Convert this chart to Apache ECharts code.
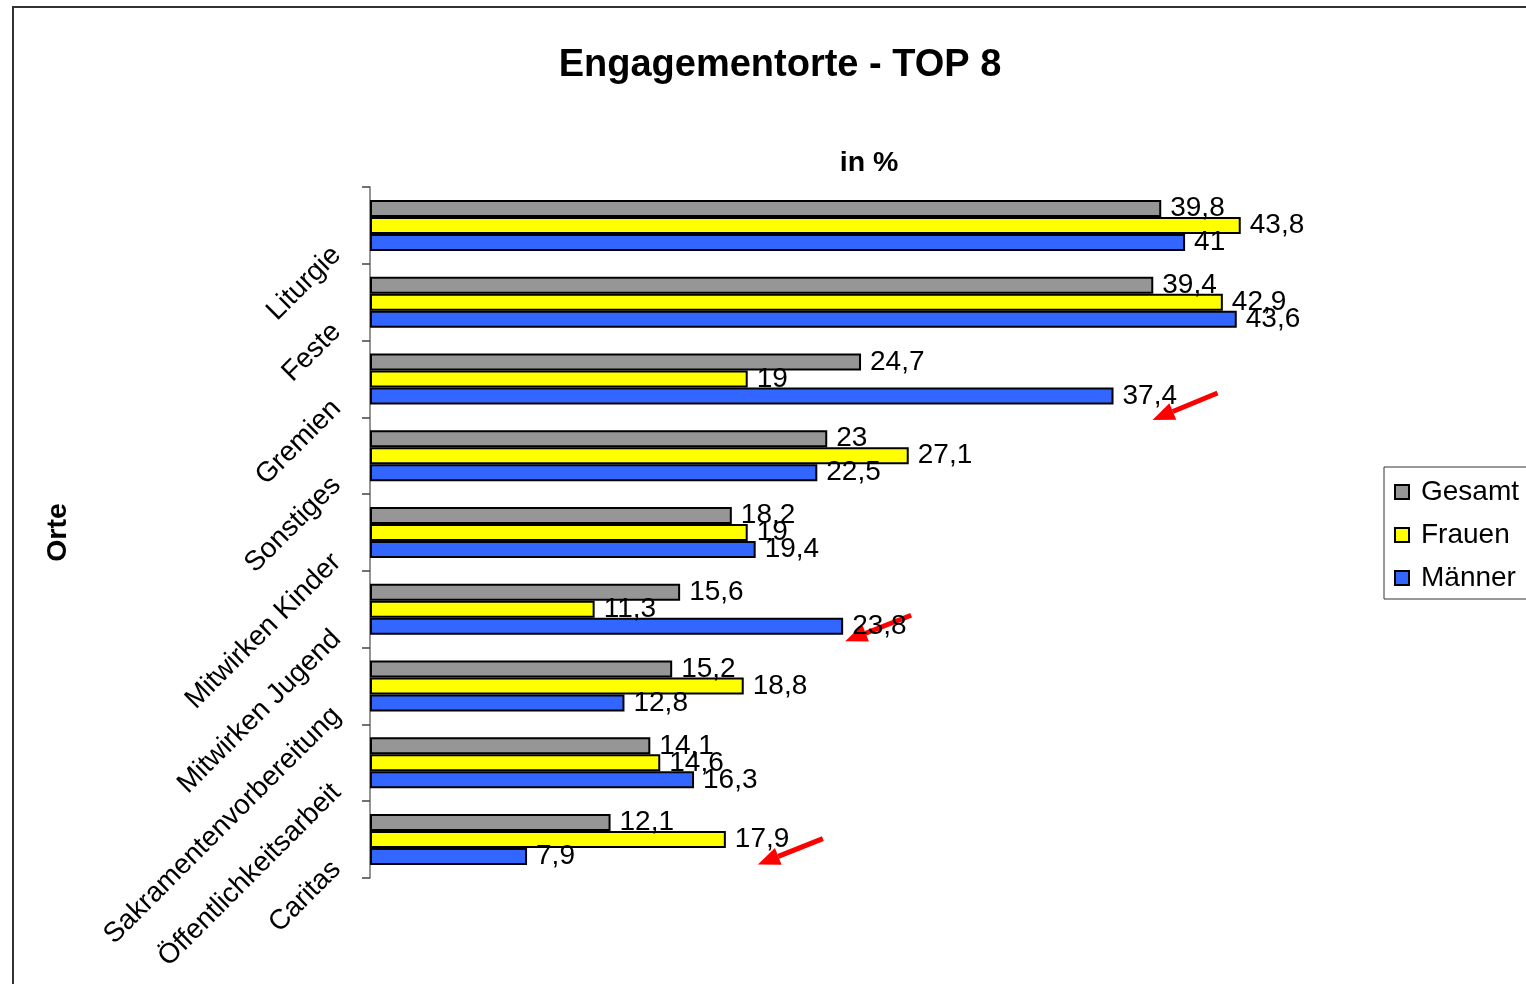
<!DOCTYPE html>
<html>
<head>
<meta charset="utf-8">
<script src="https://cdn.jsdelivr.net/npm/echarts@6/dist/echarts.min.js"></script>
<style>
html, body { margin: 0; padding: 0; background: #fff; }
#chart { width: 1526px; height: 984px; }
</style>
</head>
<body>
<div id="chart"></div>
<script>
const categories = ['Liturgie', 'Feste', 'Gremien', 'Sonstiges', 'Mitwirken Kinder', 'Mitwirken Jugend', 'Sakramentenvorbereitung', 'Öffentlichkeitsarbeit', 'Caritas']
const gesamt = [39.8, 39.4, 24.7, 23, 18.2, 15.6, 15.2, 14.1, 12.1]
const frauen = [43.8, 42.9, 19, 27.1, 19, 11.3, 18.8, 14.6, 17.9]
const maenner = [41, 43.6, 37.4, 22.5, 19.4, 23.8, 12.8, 16.3, 7.9]
const seriesNames = ['Gesamt', 'Frauen', 'Männer']

// bars the red arrows point at in the original
const highlights = [
  { category: 'Gremien', series: 2, value: 37.4 },
  { category: 'Mitwirken Jugend', series: 2, value: 23.8 },
  { category: 'Caritas', series: 1, value: 17.9 }
]
// arrow tip / tail, pixels relative to the end of the highlighted bar
const arrowOffsets = [
  { tip: [39, 24], tail: [104, -3] },
  { tip: [2, 15], tail: [68, -11] },
  { tip: [32, 25], tail: [97, -1] }
]

const FONT = "'Liberation Sans', Arial, sans-serif"
const BAR_W = 17
const colors = ['#969696', '#ffff00', '#3366ff']

const chart = echarts.init(document.getElementById('chart'))

const fmt = p => String(p.value).replace('.', ',')

const frame = {
  type: 'rect',
  id: 'frame',
  shape: { x: 13, y: 7, width: 1600, height: 1000 },
  style: { fill: 'none', stroke: '#333', lineWidth: 2 },
  silent: true
}

chart.setOption({
  animation: false,
  textStyle: { fontFamily: FONT },
  title: [
    {
      text: 'Engagementorte - TOP 8',
      left: 775, top: 42, textAlign: 'center',
      textStyle: { fontFamily: FONT, fontSize: 38, fontWeight: 'bold', color: '#000' }
    },
    {
      text: 'in %',
      left: 864, top: 144, textAlign: 'center',
      textStyle: { fontFamily: FONT, fontSize: 28.5, fontWeight: 'bold', color: '#000' }
    }
  ],
  legend: {
    orient: 'vertical',
    left: 1384, top: 467,
    data: seriesNames,
    icon: 'rect',
    itemWidth: 14, itemHeight: 14,
    itemGap: 13,
    padding: [10, 10, 6, 10],
    borderColor: '#333', borderWidth: 1,
    textStyle: { fontFamily: FONT, fontSize: 28, lineHeight: 30, color: '#000', padding: [0, 0, 0, 7] }
  },
  grid: { left: 370, top: 187, width: 994, height: 691, containLabel: false },
  xAxis: {
    type: 'value', min: 0, max: 50, show: false
  },
  yAxis: {
    type: 'category',
    data: categories,
    inverse: true,
    name: 'Orte',
    nameLocation: 'middle',
    nameRotate: 90,
    nameGap: 297,
    nameTextStyle: { fontFamily: FONT, fontSize: 28.5, fontWeight: 'bold', color: '#000' },
    axisLine: { lineStyle: { color: '#707070', width: 1.5 } },
    axisTick: { show: true, length: 8, lineStyle: { color: '#444', width: 1.5 } },
    axisLabel: {
      rotate: 45, margin: 8, padding: [0, 36, 0, 0],
      fontFamily: FONT, fontSize: 28, color: '#000', interval: 0
    },
    splitLine: { show: false }
  },
  series: [gesamt, frauen, maenner].map((vals, i) => ({
    name: seriesNames[i],
    type: 'bar',
    data: vals,
    barWidth: BAR_W,
    barGap: '0%',
    itemStyle: { color: colors[i], borderColor: '#000', borderWidth: 2 },
    label: {
      show: true, position: 'right', distance: 9,
      formatter: fmt,
      fontFamily: FONT, fontSize: 28, color: '#000'
    }
  })),
  graphic: [frame]
})

// red arrows, placed from the axis scales
const arrows = []
highlights.forEach((h, k) => {
  const pt = chart.convertToPixel({ gridIndex: 0 }, [h.value, h.category])
  const bx = pt[0]
  const by = pt[1] + (h.series - 1) * BAR_W
  const off = arrowOffsets[k]
  const tip = [bx + off.tip[0], by + off.tip[1]]
  const tail = [bx + off.tail[0], by + off.tail[1]]
  const dx = tip[0] - tail[0], dy = tip[1] - tail[1]
  const len = Math.hypot(dx, dy)
  const ux = dx / len, uy = dy / len
  const base = [tip[0] - ux * 22, tip[1] - uy * 22]
  arrows.push({
    type: 'line', silent: true,
    shape: { x1: tail[0], y1: tail[1], x2: base[0], y2: base[1] },
    style: { stroke: '#ff0000', lineWidth: 5 }
  })
  arrows.push({
    type: 'polygon', silent: true,
    shape: { points: [tip, [base[0] - uy * 9, base[1] + ux * 9], [base[0] + uy * 9, base[1] - ux * 9]] },
    style: { fill: '#ff0000' }
  })
})
chart.setOption({ graphic: [frame].concat(arrows) }, { replaceMerge: ['graphic'] })
</script>
</body>
</html>
